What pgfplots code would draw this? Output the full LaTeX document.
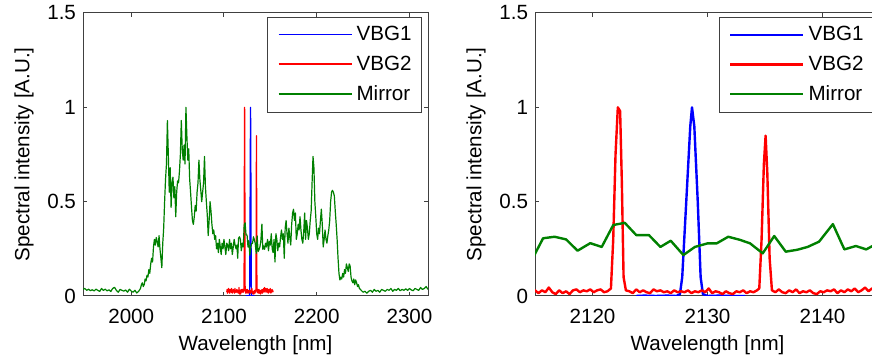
\documentclass[border=0pt]{standalone}
\usepackage{fontspec}
\setmainfont{Liberation Sans}
\usepackage{pgfplots}
\usepackage{pgfplotstable}
\pgfplotsset{compat=1.18}
\definecolor{mgreen}{RGB}{0,128,0}
\newcommand{\fnt}{\fontsize{10.3}{12}\selectfont}

\pgfplotstableread{
x y
1948 0.035
1950 0.04
1952 0.03
1954 0.036
1956 0.028
1958 0.033
1960 0.027
1962 0.036
1964 0.03
1966 0.024
1968 0.04
1970 0.03
1972 0.036
1974 0.027
1976 0.033
1978 0.024
1980 0.04
1982 0.046
1984 0.03
1986 0.02
1988 0.035
1990 0.03
1992 0.026
1994 0.032
1996 0.02
1998 0.036
2000 0.026
2002 0.02
2004 0.03
2006 0.016
2008 0.025
2010 0.04
2011 0.06
2012 0.07
2013 0.05
2014 0.06
2015 0.09
2016 0.08
2017 0.11
2018 0.1
2019 0.14
2020 0.12
2021 0.17
2022 0.2
2023 0.18
2024 0.26
2025 0.3
2026 0.27
2027 0.31
2028 0.29
2029 0.26
2030 0.32
2031 0.25
2032 0.2
2033 0.15
2034 0.28
2035 0.36
2036 0.5
2037 0.62
2038 0.7
2039 0.93
2040 0.75
2041 0.55
2042 0.68
2043 0.47
2044 0.6
2045 0.63
2046 0.52
2047 0.58
2048 0.42
2049 0.55
2050 0.61
2051 0.6
2052 0.66
2053 0.75
2054 0.93
2055 0.78
2056 0.72
2057 0.8
2058 0.7
2059 1.0
2060 0.85
2061 0.72
2062 0.78
2063 0.62
2064 0.55
2065 0.47
2066 0.4
2067 0.38
2068 0.42
2069 0.48
2070 0.45
2071 0.55
2072 0.6
2073 0.72
2074 0.62
2075 0.56
2076 0.5
2077 0.55
2078 0.6
2079 0.74
2080 0.58
2081 0.5
2082 0.43
2083 0.32
2084 0.4
2085 0.5
2086 0.45
2087 0.38
2088 0.33
2089 0.35
2090 0.3
2091 0.32
2092 0.25
2093 0.28
2094 0.23
2095 0.3
2096 0.26
2097 0.22
2098 0.28
2099 0.25
2100 0.3
2101 0.26
2102 0.22
2103 0.28
2104 0.27
2105 0.24
2106 0.3
2107 0.25
2108 0.28
2109 0.22
2110 0.26
2111 0.3
2112 0.27
2113 0.25
2114 0.27
2114.8 0.2
2115.7 0.306
2116.7 0.314
2117.7 0.30
2118.7 0.24
2119.8 0.28
2120.8 0.26
2121.8 0.376
2122.8 0.388
2123.8 0.323
2124.9 0.323
2125.9 0.26
2126.8 0.293
2127.9 0.217
2128.9 0.26
2130.0 0.279
2130.8 0.279
2131.8 0.314
2132.8 0.298
2133.7 0.279
2134.8 0.226
2135.8 0.318
2136.8 0.235
2137.8 0.245
2138.7 0.26
2139.7 0.288
2140.9 0.381
2141.9 0.247
2142.9 0.265
2143.8 0.247
2144.8 0.28
2145.8 0.26
2147 0.3
2148 0.24
2149 0.29
2150 0.27
2151 0.33
2152 0.25
2153 0.23
2154 0.3
2155 0.18
2156 0.33
2157 0.3
2158 0.24
2159 0.28
2160 0.26
2161 0.31
2162 0.35
2163 0.3
2164 0.33
2165 0.2
2166 0.36
2167 0.4
2168 0.33
2169 0.28
2170 0.36
2171 0.31
2172 0.27
2173 0.38
2174 0.44
2175 0.46
2176 0.4
2177 0.44
2178 0.3
2179 0.33
2180 0.38
2181 0.35
2182 0.42
2183 0.35
2184 0.3
2185 0.28
2186 0.34
2187 0.44
2188 0.3
2189 0.4
2190 0.36
2191 0.3
2192 0.33
2193 0.4
2194 0.45
2195 0.6
2196 0.74
2197 0.68
2198 0.5
2199 0.42
2200 0.33
2201 0.3
2202 0.36
2203 0.33
2204 0.4
2205 0.46
2206 0.38
2207 0.26
2208 0.3
2209 0.35
2210 0.3
2211 0.28
2212 0.32
2213 0.35
2214 0.4
2215 0.5
2216 0.55
2217 0.56
2218 0.55
2219 0.53
2220 0.45
2221 0.38
2222 0.3
2223 0.2
2224 0.12
2225 0.085
2226 0.1
2227 0.09
2228 0.12
2229 0.1
2230 0.14
2231 0.12
2232 0.17
2233 0.15
2234 0.13
2235 0.17
2236 0.16
2237 0.1
2238 0.08
2239 0.07
2240 0.09
2241 0.06
2242 0.085
2243 0.07
2244 0.05
2245 0.06
2246 0.04
2247 0.035
2248 0.03
2250 0.02
2252 0.025
2254 0.015
2256 0.025
2258 0.03
2260 0.02
2262 0.035
2264 0.025
2266 0.03
2268 0.02
2270 0.035
2272 0.03
2274 0.025
2276 0.035
2278 0.03
2280 0.04
2282 0.025
2284 0.035
2286 0.03
2288 0.04
2290 0.028
2292 0.035
2294 0.03
2296 0.038
2298 0.03
2300 0.04
2302 0.032
2304 0.028
2306 0.04
2308 0.035
2310 0.03
2312 0.045
2314 0.035
2316 0.04
2318 0.05
2320 0.035
}\mirror

\pgfplotstableread{
x y
2123.8 0.0
2124.5 0.002
2125.5 0.0
2126.5 0.002
2127.3 0.0
2127.6 0.01
2127.8 0.1
2128.15 0.5
2128.5 0.9
2128.65 1.0
2128.85 0.9
2129.15 0.5
2129.4 0.1
2129.6 0.01
2130.0 0.0
2131.0 0.002
2132.0 0.0
2133.3 0.0
}\vbgone

\pgfplotstableread{
x y
2103.0 0.02
2103.4 0.035
2103.8 0.015
2104.2 0.03
2104.6 0.025
2105.0 0.04
2105.4 0.02
2105.8 0.03
2106.2 0.015
2106.6 0.035
2107.0 0.025
2107.4 0.03
2107.8 0.02
2108.2 0.04
2108.6 0.025
2109.0 0.015
2109.4 0.03
2109.8 0.02
2110.2 0.035
2110.6 0.025
2111.0 0.03
2111.4 0.015
2111.8 0.04
2112.2 0.025
2112.6 0.02
2113.0 0.03
2113.4 0.02
2113.8 0.035
2114.2 0.02
2114.6 0.03
2115.0 0.03
2115.3 0.015
2115.6 0.03
2115.9 0.02
2116.2 0.045
2116.5 0.02
2116.8 0.01
2117.1 0.03
2117.4 0.015
2117.7 0.025
2118.0 0.01
2118.3 0.03
2118.6 0.035
2118.9 0.02
2119.2 0.03
2119.5 0.025
2119.8 0.035
2120.1 0.02
2120.4 0.03
2120.7 0.035
2121.0 0.02
2121.3 0.025
2121.6 0.04
2121.8 0.3
2122.0 0.75
2122.2 1.0
2122.4 0.98
2122.55 0.6
2122.7 0.1
2122.9 0.03
2123.2 0.025
2123.5 0.015
2123.8 0.035
2124.1 0.02
2124.4 0.03
2124.7 0.02
2125.0 0.015
2125.3 0.035
2125.6 0.025
2125.9 0.03
2126.2 0.02
2126.5 0.025
2126.8 0.015
2127.1 0.03
2127.4 0.02
2127.7 0.025
2128.0 0.02
2128.3 0.03
2128.6 0.015
2128.9 0.025
2129.2 0.02
2129.5 0.03
2129.8 0.02
2130.1 0.04
2130.4 0.015
2130.7 0.025
2131.0 0.02
2131.3 0.01
2131.6 0.025
2131.9 0.015
2132.2 0.01
2132.5 0.025
2132.8 0.02
2133.1 0.03
2133.4 0.015
2133.7 0.025
2134.0 0.02
2134.3 0.03
2134.5 0.04
2134.7 0.3
2134.9 0.7
2135.05 0.85
2135.2 0.65
2135.4 0.2
2135.6 0.03
2135.9 0.02
2136.2 0.035
2136.5 0.02
2136.8 0.015
2137.1 0.03
2137.4 0.02
2137.7 0.035
2138.0 0.015
2138.3 0.025
2138.6 0.02
2138.9 0.03
2139.2 0.015
2139.5 0.01
2139.8 0.025
2140.1 0.02
2140.4 0.03
2140.7 0.025
2141.0 0.035
2141.3 0.015
2141.6 0.03
2141.9 0.02
2142.2 0.035
2142.5 0.025
2142.8 0.04
2143.1 0.02
2143.4 0.03
2143.7 0.045
2144.0 0.025
2144.3 0.04
2144.6 0.03
2145.0 0.04
2145.4 0.02
2145.8 0.035
2146.2 0.025
2146.6 0.04
2147.0 0.02
2147.4 0.03
2147.8 0.015
2148.2 0.035
2148.6 0.025
2149.0 0.03
2149.4 0.02
2149.8 0.04
2150.2 0.025
2150.6 0.015
2151.0 0.03
2151.4 0.02
2151.8 0.035
2152.2 0.025
2152.6 0.03
2153.0 0.02
}\vbgtwo

\pgfplotsset{
  myax/.style={
    scale only axis, width=172.5pt, height=141.5pt,
    ymin=0, ymax=1.5, ytick={0,0.5,1,1.5},
    tick align=inside, tick pos=both, major tick length=2pt,
    axis line style={black!75, line width=0.5pt},
    every tick/.style={black!75, line width=0.5pt},
    /pgf/number format/assume math mode=true,
    tick label style={font=\fnt},
    label style={font=\fnt},
    xticklabel style={/pgf/number format/1000 sep={}, yshift=-2.8pt},
    scaled x ticks=false,
    xlabel={Wavelength [nm]},
    ylabel={Spectral intensity [A.U.]},
    ylabel style={at={(axis description cs:-0.171,0.5)}, anchor=center},
    xlabel style={at={(axis description cs:0.5,-0.194)}, anchor=base},
    legend cell align=left,
    legend style={at={(axis description cs:1,1)}, xshift=-3pt, yshift=-2pt,
      anchor=north east, draw=black!75, line width=0.5pt, font=\fnt,
      inner xsep=3pt, inner ysep=2.5pt, row sep=2pt},
    every axis plot/.append style={line join=round},
  }
}

\begin{document}
\begin{tikzpicture}
\path[use as bounding box] (0,0) rectangle (436pt,179pt);
\clip (0,0) rectangle (436pt,179pt);
\begin{axis}[myax, at={(41.5pt,31pt)}, anchor=south west,
  xmin=1948, xmax=2320, xtick={2000,2100,2200,2300},
  legend image code/.code={\draw[#1, line width=0.8pt] (0pt,0.25pt) -- (36.5pt,0.25pt); \path[draw=none] (-2.5pt,0pt) -- (0pt,0pt);}]
\addplot[blue, line width=0.6pt] table[x=x,y=y] {\vbgone};
\addlegendentry{VBG1}
\addplot[red, line width=0.6pt] table[x=x,y=y] {\vbgtwo};
\addlegendentry{VBG2}
\addplot[mgreen, line width=0.6pt] table[x=x,y=y] {\mirror};
\addlegendentry{Mirror}
\end{axis}
\begin{axis}[myax, at={(267.5pt,31pt)}, anchor=south west,
  xmin=2115, xmax=2145, xtick={2120,2130,2140},
  legend image code/.code={\draw[#1] (0pt,0pt) -- (36.5pt,0pt); \path[draw=none] (-2.5pt,0pt) -- (0pt,0pt);}]
\addplot[blue, line width=1.2pt] table[x=x,y=y] {\vbgone};
\addlegendentry{VBG1}
\addplot[red, line width=1.2pt] table[x=x,y=y] {\vbgtwo};
\addlegendentry{VBG2}
\addplot[mgreen, line width=1.2pt] table[x=x,y=y] {\mirror};
\addlegendentry{Mirror}
\end{axis}
\end{tikzpicture}
\end{document}
